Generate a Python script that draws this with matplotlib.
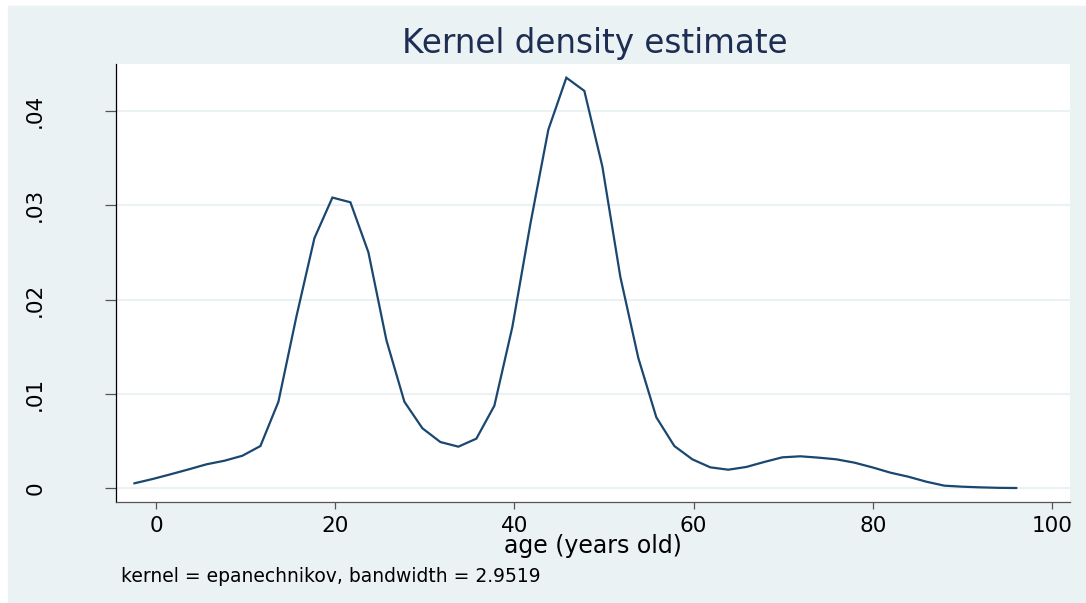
import numpy as np
import matplotlib
matplotlib.use("Agg")
import matplotlib.pyplot as plt
from matplotlib.patches import Rectangle

# density evaluated on 50 points between the min and max age
age_lo, age_hi, n_points = -2.4, 96.0, 50
density = [
    0.00053, 0.00098, 0.00148, 0.00200, 0.00254, 0.00292, 0.00345, 0.00448,
    0.00917, 0.01820, 0.02650, 0.03080, 0.03030, 0.02500, 0.01570, 0.00917,
    0.00636, 0.00490, 0.00441, 0.00526, 0.00875, 0.01710, 0.02800, 0.03800,
    0.04350, 0.04210, 0.03410, 0.02240, 0.01380, 0.00752, 0.00448, 0.00307,
    0.00222, 0.00197, 0.00226, 0.00279, 0.00328, 0.00339, 0.00325, 0.00307,
    0.00272, 0.00222, 0.00166, 0.00123, 0.00070, 0.00028, 0.00017, 0.00010,
    0.00005, 0.00003,
]
x_ticks = [0, 20, 40, 60, 80, 100]
y_ticks = [0, 0.01, 0.02, 0.03, 0.04]
y_labels = ["0", ".01", ".02", ".03", ".04"]

bg = "#EAF2F3"
navy = "#1A476F"

plt.rcParams["font.family"] = ["DejaVu Sans"]

fig = plt.figure(figsize=(10.86, 6.03), dpi=100)
fig.patch.set_facecolor("white")
fig.add_artist(Rectangle((8 / 1086, 0), 1, 1 - 6 / 603,
                         transform=fig.transFigure, color=bg, zorder=0))

ax = fig.add_axes([116 / 1086, 1 - 501.7 / 603, (1070 - 116) / 1086, (501.7 - 64) / 603])
ax.set_facecolor("white")

ages = np.linspace(age_lo, age_hi, n_points)
ax.plot(ages, density, color=navy, lw=1.6, solid_joinstyle="miter")

ax.set_xlim(-4.46, 102.0)
ax.set_ylim(-0.00142, 0.04495)

ax.set_yticks(y_ticks)
ax.set_yticklabels(y_labels, rotation=90, va="center", fontsize=15.5)
ax.set_xticks(x_ticks)
ax.set_xticklabels([str(t) for t in x_ticks], fontsize=15.5)

ax.grid(axis="y", color=bg, lw=1.5)
ax.set_axisbelow(True)

for side in ("top", "right"):
    ax.spines[side].set_visible(False)
ax.spines["left"].set_color("black")
ax.spines["left"].set_linewidth(0.9)
ax.spines["bottom"].set_color("#555555")
ax.spines["bottom"].set_linewidth(0.9)

ax.tick_params(axis="y", direction="out", length=8, width=0.9, color="#555555", pad=43)
ax.tick_params(axis="x", direction="out", length=5, width=0.9, color="#555555", pad=5)

# titles and note placed in figure pixels
fig.text(595 / 1086, 1 - 44 / 603, "Kernel density estimate", fontsize=23.5,
         color="#1E2D53", ha="center", va="center")
fig.text(593 / 1086, 1 - 546 / 603, "age (years old)", fontsize=17,
         ha="center", va="center")
fig.text(121 / 1086, 1 - 576 / 603, "kernel = epanechnikov, bandwidth = 2.9519",
         fontsize=13.5, va="center", ha="left")

fig.savefig("out.png", dpi=100, facecolor=fig.get_facecolor())
